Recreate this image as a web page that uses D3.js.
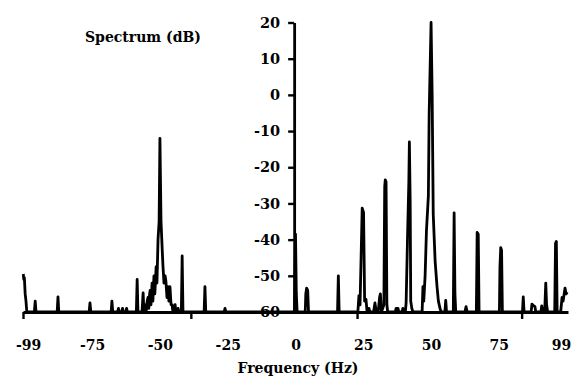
<!DOCTYPE html>
<html>
<head>
<meta charset="utf-8">
<script src="https://cdn.jsdelivr.net/npm/d3@7"></script>
<style>
  html, body { margin: 0; padding: 0; background: #fff; }
  svg { display: block; }
  text { font-family: "DejaVu Serif", "Liberation Serif", serif; font-weight: bold; fill: #000; }
</style>
</head>
<body>
<svg id="chart" width="576" height="378"></svg>
<script>
// ---- data ----
const freqHz = [
  -100.4, -100.2, -100.0, -99.7, -99.4, -99.1,
  -96.3, -96.0, -95.7,
  -87.9, -87.6, -87.3,
  -76.1, -75.8, -75.5,
  -68.0, -67.7, -67.4,
  -65.6, -65.3, -65.0, -64.1, -63.8, -63.5, -62.6, -62.3, -62.0,
  -58.7, -58.4, -58.1,
  -56.6, -56.2, -55.9, -55.5, -55.1, -54.7, -54.4, -54.1, -53.8, -53.6, -53.3,
  -52.9, -52.6, -52.2, -51.9, -51.6, -51.4, -51.1, -50.7, -50.3, -50.0, -49.6,
  -49.2, -48.9, -48.5, -48.1, -47.8, -47.4, -47.0, -46.7, -46.3, -45.9, -45.5, -45.2,
  -44.7, -44.4, -44.1, -43.6, -43.3, -43.0,
  -42.1, -41.8, -41.5,
  -33.7, -33.4, -33.1,
  -26.3, -26.0, -25.7,
  -0.4, 0.0, 0.3, 0.6,
  3.6, 3.8, 4.1, 4.5, 4.8,
  15.5, 15.8, 16.1,
  23.0, 23.4, 23.8, 24.6, 25.1, 25.5, 26.0, 26.4,
  26.8, 27.1, 27.4,
  28.8, 29.3, 29.8, 30.5, 31.0, 31.3, 31.7,
  32.6, 32.9, 33.1, 33.4, 33.7, 34.0,
  36.8, 37.1, 37.8, 38.1,
  39.3, 39.6, 39.9, 40.5, 40.8, 41.3, 41.8, 42.0, 42.3, 42.5, 42.9, 43.3,
  46.7, 47.0, 47.3, 47.8, 48.3, 49.0, 49.3, 50.0, 50.4, 50.8, 51.5, 52.2, 52.7, 53.3, 53.7,
  55.1, 55.4, 55.7,
  58.2, 58.5, 58.8, 59.1,
  62.5, 62.9, 63.3,
  66.7, 67.0, 67.4, 67.7,
  75.2, 75.4, 75.7, 76.0, 76.3,
  83.7, 84.0, 84.3,
  86.9, 87.2, 87.8, 88.3, 88.6,
  90.5, 90.8, 91.2, 91.9, 92.3, 92.6, 93.0,
  95.6, 95.9, 96.2, 96.5,
  97.8, 98.3, 98.7, 99.4, 99.8, 100.2
];
const spectrumDb = [
  -49.5, -51, -50.5, -55, -57, -60,
  -60, -57, -60,
  -60, -55.8, -60,
  -60, -57.5, -60,
  -60, -57, -60,
  -60, -59, -60, -60, -59, -60, -60, -59, -60,
  -60, -51, -60,
  -60, -54.7, -60, -58, -60, -57, -56, -59, -55, -54, -58,
  -52, -57, -50, -55, -51, -47.5, -52, -40, -35, -12, -35,
  -42, -47, -52, -50, -51.5, -56, -53, -57, -53, -58, -58, -60,
  -60, -58, -60, -60, -59, -60,
  -60, -44.5, -60,
  -60, -53, -60,
  -60, -59, -60,
  -60, -38.5, -55, -60,
  -60, -55, -53.4, -54, -60,
  -60, -50, -60,
  -60, -55.5, -58, -31.3, -32.5, -57, -56.5, -60,
  -60, -59, -60,
  -60, -57.5, -60, -60, -56, -55, -60,
  -58, -25.4, -23.5, -24, -58, -60,
  -60, -59, -59, -60,
  -60, -59, -60, -60, -57.5, -40, -24, -13, -30, -57, -59, -60,
  -60, -53, -57, -50, -37.5, -28, -5, 20, 0, -33, -46, -53, -57, -59, -60,
  -60, -56.8, -60,
  -60, -32.6, -55, -60,
  -60, -58.5, -60,
  -60, -38, -38.5, -60,
  -60, -47.6, -42.2, -43, -60,
  -60, -55.8, -60,
  -60, -57.8, -58.3, -58.5, -60,
  -60, -58.3, -60, -60, -52, -58, -60,
  -60, -41, -40.5, -60,
  -60, -56, -57, -53.4, -55, -54.5
];
const yTicks = [20, 10, 0, -10, -20, -30, -40, -50, -60];
const xTickLabels = [-99, -75, -50, -25, 0, 25, 50, 75, 99];
const xTickMarks = [-100.5, -38.6, 22.7, 83.4];
const xDomain = [-100.5, 100.5];
const yDomain = [-60, 20];
const yAxisCrossHz = -0.5;
const yLabel = "Spectrum (dB)";
const xLabel = "Frequency (Hz)";

// ---- drawing ----
const svg = d3.select("#chart");
const x = d3.scaleLinear().domain(xDomain).range([23, 568]);
const y = d3.scaleLinear().domain(yDomain).range([312, 22.5]);
const fmt = d => String(d); // plain hyphen-minus as in the reference

const pts = freqHz.map((f, i) => [f, spectrumDb[i]]);

// spectrum line
svg.append("path")
  .datum(pts)
  .attr("fill", "none")
  .attr("stroke", "#000")
  .attr("stroke-width", 2.8)
  .attr("stroke-linejoin", "round")
  .attr("d", d3.line().x(d => x(d[0])).y(d => y(d[1])));

// x axis (tick marks)
const gx = svg.append("g")
  .attr("transform", `translate(0,${y(-60)})`)
  .call(d3.axisBottom(x).tickValues(xTickMarks).tickSize(7).tickSizeOuter(0).tickFormat(""));
gx.select(".domain").attr("stroke-width", 2.8);
gx.selectAll(".tick line").attr("stroke-width", 2.4);

// x axis labels
const gxl = svg.append("g")
  .attr("transform", `translate(0,${y(-60)})`)
  .call(d3.axisBottom(x).tickValues(xTickLabels).tickSize(0).tickPadding(28).tickFormat(fmt));
gxl.select(".domain").remove();
gxl.selectAll(".tick text")
  .style("font-size", "14px")
  .attr("dx", d => d === 99 ? "-3" : (d === -99 ? "1" : "0"));

// y axis
const gy = svg.append("g")
  .attr("transform", `translate(${x(yAxisCrossHz)},0)`)
  .call(d3.axisLeft(y).tickValues(yTicks).tickSize(6).tickSizeOuter(0).tickPadding(8).tickFormat(fmt));
gy.select(".domain").attr("stroke-width", 2.8);
gy.selectAll(".tick line").attr("stroke-width", 2.4);
gy.selectAll(".tick text").style("font-size", "14.5px");
gy.selectAll("text").attr("font-family", null);
gxl.selectAll("text").attr("font-family", null);
svg.selectAll(".tick text").attr("fill", "#000");

// axis titles
svg.append("text")
  .attr("x", 85).attr("y", 42)
  .style("font-size", "14px")
  .text(yLabel);

svg.append("text")
  .attr("x", 298).attr("y", 373)
  .attr("text-anchor", "middle")
  .style("font-size", "14px")
  .text(xLabel);
</script>
</body>
</html>
